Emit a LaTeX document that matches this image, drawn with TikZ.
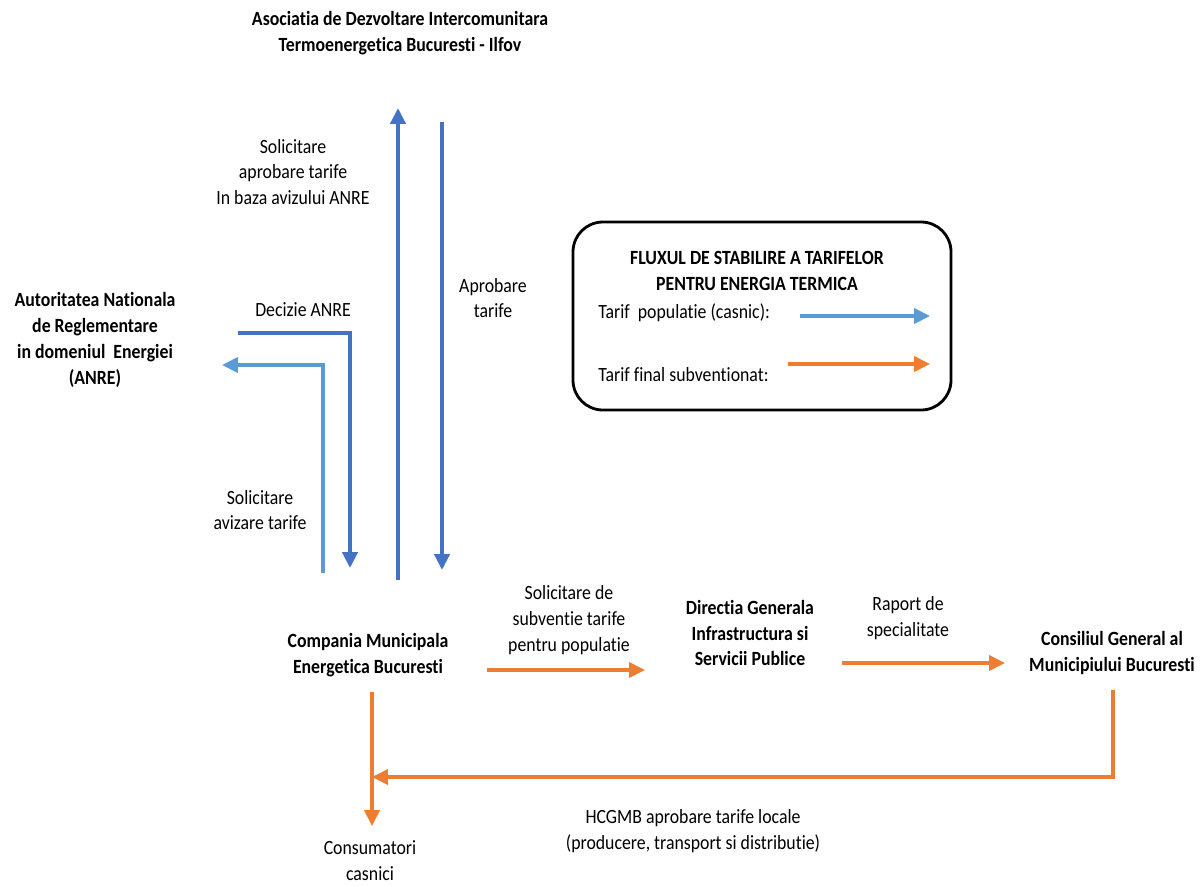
\documentclass[tikz,border=0pt]{standalone}
\usepackage{fontspec}
\setmainfont{Carlito}[FakeStretch=0.88, Ligatures={NoCommon,NoRare,NoDiscretionary}]
\usetikzlibrary{arrows.meta}

\definecolor{darkblue}{HTML}{4472C4}
\definecolor{lightblue}{HTML}{5B9BD5}
\definecolor{orangeflow}{HTML}{ED7D31}

\tikzset{
  lbl/.style={align=center, inner sep=0pt, font=\fontsize{11.5}{14.7}\selectfont},
  org/.style={align=center, inner sep=0pt, font=\fontsize{11.5}{14.7}\selectfont\bfseries},
  darkflow/.style={darkblue, line width=2.2pt, -{Triangle[length=9pt,width=8.5pt]}},
  lightflow/.style={lightblue, line width=2pt, -{Triangle[length=9pt,width=8.5pt]}},
  orangeline/.style={orangeflow, line width=1.9pt, -{Triangle[length=9pt,width=8.5pt]}}
}

\begin{document}
\begin{tikzpicture}[x=0.02cm, y=-0.02cm]
    \useasboundingbox (0,0) rectangle (1200,886);
    % Institutions
    \node[org] (adit) at (400,33) {Asociatia de Dezvoltare Intercomunitara\\Termoenergetica Bucuresti - Ilfov};
    \node[org] (anre) at (95,340) {Autoritatea Nationala\\de Reglementare\\in domeniul\ \ Energiei\\(ANRE)};
    \node[org] (cmeb) at (368,655) {Compania Municipala\\Energetica Bucuresti};
    \node[org] (dgisp) at (750,633) {Directia Generala\\Infrastructura si\\Servicii Publice};
    \node[org] (cgmb) at (1112,653) {Consiliul General al\\Municipiului Bucuresti};
    \node[lbl] (cons) at (370,861) {Consumatori\\casnici};
    % Arrow labels
    \node[lbl] (lsolap) at (293,172) {Solicitare\\aprobare tarife\\In baza avizului ANRE};
    \node[lbl] (lapr) at (493,298) {Aprobare\\tarife};
    \node[lbl] (ldec) at (303,310) {Decizie ANRE};
    \node[lbl] (lsolav) at (260,510) {Solicitare\\avizare tarife};
    \node[lbl] (lsub) at (569,620) {Solicitare de\\subventie tarife\\pentru populatie};
    \node[lbl] (lrap) at (908,618) {Raport de\\specialitate};
    \node[lbl] (lhcg) at (693,831) {HCGMB aprobare tarife locale\\(producere, transport si distributie)};
    % Arrow ends
    \coordinate (upS) at (398,580);
    \coordinate (upE) at (398,108);
    \coordinate (dnS) at (442,122);
    \coordinate (dnE) at (442,570);
    \coordinate (decS) at (238,333);
    \coordinate (decC) at (350,333);
    \coordinate (decE) at (350,568);
    \coordinate (avS) at (323,573);
    \coordinate (avC) at (323,365);
    \coordinate (avE) at (222,365);
    \coordinate (subS) at (487,670);
    \coordinate (subE) at (645,670);
    \coordinate (rapS) at (842,663);
    \coordinate (rapE) at (1005,663);
    \coordinate (hcgS) at (1113,690);
    \coordinate (hcgC) at (1113,777);
    \coordinate (hcgE) at (372,777);
    \coordinate (consS) at (372,692);
    \coordinate (consE) at (372,826);
    % Blue flow
    \draw[darkflow] (upS) -- (upE);
    \draw[darkflow] (dnS) -- (dnE);
    \draw[darkflow] (decS) -- (decC) -- (decE);
    \draw[lightflow] (avS) -- (avC) -- (avE);
    % Orange flow
    \draw[orangeline] (subS) -- (subE);
    \draw[orangeline] (rapS) -- (rapE);
    \draw[orangeline] (hcgS) -- (hcgC) -- (hcgE);
    \draw[orangeline] (consS) -- (consE);
    % Legend box
    \draw[line width=1.6pt, rounded corners=17pt] (573,222) rectangle (951,410);
    \node[org] (legtitle) at (757,271) {FLUXUL DE STABILIRE A TARIFELOR\\PENTRU ENERGIA TERMICA};
    \node[lbl, anchor=west] (legpop) at (598,313) {Tarif\ \ populatie (casnic):};
    \node[lbl, anchor=west] (legsub) at (598,375) {Tarif final subventionat:};
    \coordinate (legpopS) at (800,316);
    \coordinate (legpopE) at (930,316);
    \coordinate (legsubS) at (788,364);
    \coordinate (legsubE) at (930,364);
    \draw[lightflow] (legpopS) -- (legpopE);
    \draw[orangeline] (legsubS) -- (legsubE);
\end{tikzpicture}
\end{document}
